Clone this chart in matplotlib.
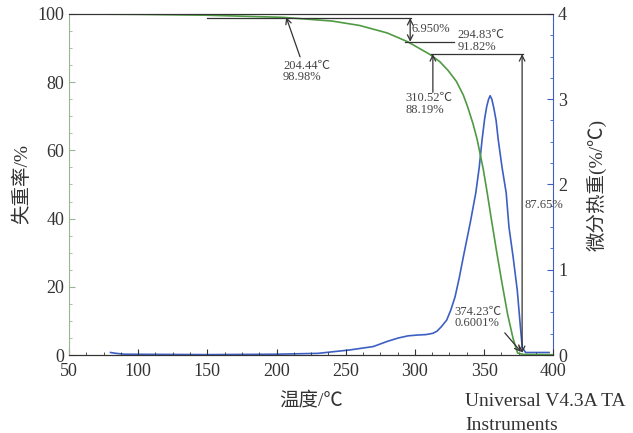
import matplotlib.pyplot as plt
from matplotlib.ticker import MultipleLocator

# TG curve (mass %)
tg_temp = [60, 100, 150, 204.44, 240, 260, 280, 294.83, 310.52, 318, 324, 330,
           335, 338, 342, 345, 349.4, 352.3, 355, 359, 363, 367, 371, 374.23,
           378, 400]
tg_mass = [99.95, 99.85, 99.6, 98.98, 97.9, 96.6, 94.4, 91.82, 88.19, 86.0, 83.4, 80.2,
           76.2, 72.9, 67.8, 63.2, 54.5, 47.5, 40.5, 30.5, 21.0, 12.0, 4.8, 0.6,
           0.2, 0.1]

# DTG curve (%/C)
dtg_temp = [80, 84, 90, 150, 200, 230, 253, 270, 280, 288, 295, 302, 308, 313,
            316, 319, 323, 326, 329, 332, 335, 340, 344, 346.5, 348.6, 350.5, 352,
            353.3, 354.4, 355.6, 357, 358.7, 360.2, 363, 366, 368, 371, 374,
            376, 377.6, 380, 397]
dtg_val = [0.03, 0.02, 0.01, 0.005, 0.01, 0.02, 0.06, 0.1, 0.16, 0.2, 0.225,
           0.235, 0.24, 0.255, 0.28, 0.33, 0.41, 0.53, 0.68, 0.9, 1.15, 1.55, 1.9,
           2.2, 2.53, 2.78, 2.92, 3.0, 3.04, 3.0, 2.9, 2.75, 2.53, 2.2, 1.9, 1.5,
           1.15, 0.76, 0.38, 0.09, 0.03, 0.03]

green = '#4f9a43'
blue = '#3d5fc4'
dark = '#333333'
ann = '#444444'

plt.rcParams['font.family'] = ['Liberation Serif', 'Noto Sans CJK SC']

fig = plt.figure(figsize=(6.33, 4.33), dpi=100)
ax = fig.add_axes([0.109, 0.180, 0.765, 0.788])
ax2 = ax.twinx()

ax.plot(tg_temp, tg_mass, color=green, lw=1.2)
ax2.plot(dtg_temp, dtg_val, color=blue, lw=1.2)

ax.set_xlim(50, 400)
ax.set_ylim(0, 100)
ax2.set_ylim(0, 4)

ax.xaxis.set_major_locator(MultipleLocator(50))
ax.xaxis.set_minor_locator(MultipleLocator(12.5))
ax.yaxis.set_major_locator(MultipleLocator(20))
ax.yaxis.set_minor_locator(MultipleLocator(5))
ax2.yaxis.set_major_locator(MultipleLocator(1))
ax2.yaxis.set_minor_locator(MultipleLocator(0.25))

for a in (ax, ax2):
    a.tick_params(which='major', direction='in', length=4, labelsize=13, labelcolor=dark)
    a.tick_params(which='minor', direction='in', length=2)
ax.tick_params(axis='y', which='both', colors='#9ab592', labelcolor=dark)
ax.tick_params(axis='x', which='both', colors=dark, labelcolor=dark, pad=6)
ax2.tick_params(axis='y', which='both', colors=blue, labelcolor=dark)

ax.spines['left'].set_color('#9ab592')
ax2.spines['left'].set_visible(False)
ax2.spines['right'].set_color(blue)
for a in (ax, ax2):
    a.spines['top'].set_color(dark)
    a.spines['bottom'].set_color(dark)
ax.spines['right'].set_visible(False)

ax.set_xlabel('温度/℃', fontsize=14, color=dark, labelpad=8)
ax.set_ylabel('失重率/%', fontsize=14, color=dark, labelpad=4)
ax2.set_ylabel('微分热重(%/℃)', fontsize=14, color=dark, labelpad=14)

# annotations (drawn on the TG axes)
arrow = dict(arrowstyle='->', color=dark, lw=0.9, shrinkA=0, shrinkB=0)
both = dict(arrowstyle='<->', color=dark, lw=0.9, shrinkA=0, shrinkB=0)

ax2.set_zorder(ax.get_zorder() - 1)
ax.patch.set_visible(False)

ax.plot([150, 297], [98.77, 98.77], color=dark, lw=0.9)
ax.annotate('', xy=(296.6, 98.77), xytext=(296.6, 91.82), arrowprops=both)
ax.text(297.5, 95.5, '6.950%', fontsize=9, color=ann, va='center')
ax.plot([293, 328], [91.82, 91.82], color=dark, lw=0.9)
ax.text(331, 95.5, '294.83℃\n91.82%', fontsize=9, color=ann, va='top', linespacing=0.95)

ax.annotate('', xy=(207, 99.0), xytext=(217, 87.4), arrowprops=arrow)
ax.text(204.7, 86.5, '204.44℃\n98.98%', fontsize=9, color=ann, va='top', linespacing=0.95)

ax.plot([312, 378], [88.19, 88.19], color=dark, lw=0.9)
ax.annotate('', xy=(313, 88.19), xytext=(313, 77), arrowprops=arrow)
ax.text(293, 77, '310.52℃\n88.19%', fontsize=9, color=ann, va='top', linespacing=0.95)

ax.annotate('', xy=(377.5, 88.19), xytext=(377.5, 0.6), arrowprops=both)
ax.text(379, 44, '87.65%', fontsize=9, color=ann, va='center', clip_on=False)

ax.annotate('', xy=(376.8, 0.9), xytext=(365, 6.5), arrowprops=arrow)
ax.text(328.4, 14.5, '374.23℃\n0.6001%', fontsize=9, color=ann, va='top', linespacing=0.95)

fig.text(465 / 633, 1 - 402 / 433, 'Universal V4.3A TA', fontsize=14, color=dark, va='center')
fig.text(465 / 633, 1 - 425 / 433, 'Instruments', fontsize=14, color=dark, va='center')

fig.savefig('out.png', dpi=100)
